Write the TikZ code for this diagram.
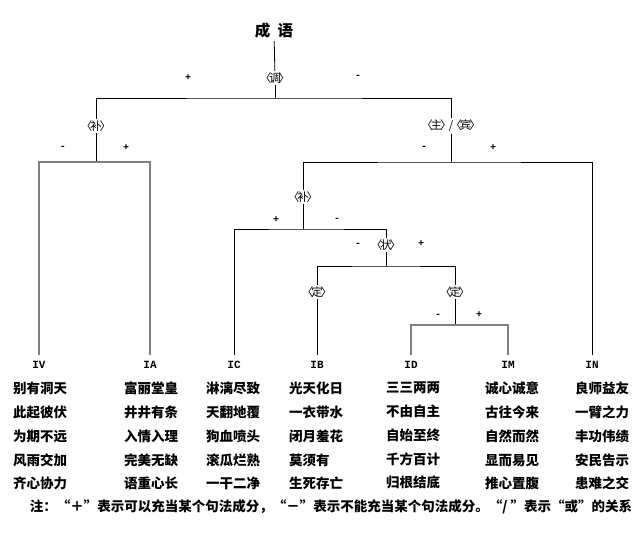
\documentclass[tikz,border=0pt]{standalone}
\usepackage{fontspec}
\usepackage{graphicx}
\newfontfamily\cjk{Noto Sans CJK SC}
\newfontfamily\lbl{Liberation Mono}
\newcommand{\Cat}[1]{〈\kern-0.18em#1\kern-0.18em〉}

\begin{document}
\begin{tikzpicture}[x=1pt,y=-1pt,
		cat/.style={font=\cjk\fontsize{11.5}{12}\selectfont, inner sep=1.5pt},
		sgn/.style={font=\lbl\bfseries\fontsize{10}{12}\selectfont, inner sep=0pt},
		leaf/.style={font=\lbl\bfseries\fontsize{11}{12}\selectfont, inner sep=6pt},
		idioms/.style={font=\cjk\bfseries\fontsize{13.5}{23.75}\selectfont, align=left, anchor=north, inner sep=0pt},
		br/.style={line width=0.8pt},
		graybr/.style={line width=1.2pt, gray}]
				\useasboundingbox (0,0) rectangle (643,543);
				% top of the tree
				\node[font=\cjk\bfseries\fontsize{15.5}{18}\selectfont, inner sep=2pt] (Chengyu) at (274,31) {成\ \ 语};
				\node[cat] (Diao) at (275,78) {\Cat{调}};
				\node[cat] (BuA) at (96,126) {\Cat{补}};
				\node[cat] (ZhuBin) at (451,126) {\Cat{主}\kern-0.25em/\kern-0.25em\Cat{宾}};
				\node[cat] (BuB) at (303,197) {\Cat{补}};
				\node[cat] (Zhuang) at (386,245) {\Cat{状}};
				\node[cat] (DingA) at (317,292) {\Cat{定}};
				\node[cat] (DingB) at (455,292) {\Cat{定}};
				% junctions
				\coordinate (jDiao) at (275,98);
				\coordinate (jBuA) at (96,162);
				\coordinate (jZhuBin) at (451,162);
				\coordinate (jBuB) at (303,229);
				\coordinate (jZhuang) at (386,266);
				\coordinate (jDingB) at (455,325);
				% classes
				\node[leaf] (IV) at (39,365) {IV};
				\node[leaf] (IA) at (150,365) {IA};
				\node[leaf] (IC) at (234,365) {IC};
				\node[leaf] (IB) at (317,365) {IB};
				\node[leaf] (ID) at (411,365) {ID};
				\node[leaf] (IM) at (508,365) {IM};
				\node[leaf] (IN) at (592,365) {IN};
				% signs
				\node[sgn] (pDiao) at (188,78) {+};
				\node[sgn] (mDiao) at (358,77) {-};
				\node[sgn] (mBuA) at (63,148) {-};
				\node[sgn] (pBuA) at (126,148) {+};
				\node[sgn] (mZhuBin) at (424,148) {-};
				\node[sgn] (pZhuBin) at (493,148) {+};
				\node[sgn] (pBuB) at (276,220) {+};
				\node[sgn] (mBuB) at (337,220) {-};
				\node[sgn] (mZhuang) at (358,245) {-};
				\node[sgn] (pZhuang) at (421,244) {+};
				\node[sgn] (mDingB) at (438,316) {-};
				\node[sgn] (pDingB) at (479,315) {+};
				% branches
				\draw[br] (Chengyu) -- (Diao);
				\draw[br] (Diao) -- (jDiao);
				\draw[br] (BuA) |- (jDiao) -| (ZhuBin);
				\draw[br] (BuA) -- (jBuA);
				\draw[graybr] (IV) |- (jBuA) -| (IA);
				\draw[br] (ZhuBin) -- (jZhuBin);
				\draw[br] (BuB) |- (jZhuBin) -| (IN);
				\draw[br] (BuB) -- (jBuB);
				\draw[br] (IC) |- (jBuB) -| (Zhuang);
				\draw[br] (Zhuang) -- (jZhuang);
				\draw[br] (DingA) |- (jZhuang) -| (DingB);
				\draw[br] (DingA) -- (IB);
				\draw[br] (DingB) -- (jDingB);
				\draw[graybr] (ID) |- (jDingB) -| (IM);
				% idioms
				\node[idioms] (wIV) at (40,382) {别有洞天\\此起彼伏\\为期不远\\风雨交加\\齐心协力};
				\node[idioms] (wIA) at (151,382) {富丽堂皇\\井井有条\\入情入理\\完美无缺\\语重心长};
				\node[idioms] (wIC) at (233,382) {淋漓尽致\\天翻地覆\\狗血喷头\\滚瓜烂熟\\一干二净};
				\node[idioms] (wIB) at (316,382) {光天化日\\一衣带水\\闭月羞花\\莫须有\\生死存亡};
				\node[idioms] (wID) at (413,382) {三三两两\\不由自主\\自始至终\\千方百计\\归根结底};
				\node[idioms] (wIM) at (512,382) {诚心诚意\\古往今来\\自然而然\\显而易见\\推心置腹};
				\node[idioms] (wIN) at (602,382) {良师益友\\一臂之力\\丰功伟绩\\安民告示\\患难之交};
				% note
				\node[inner sep=0pt] (Note) at (331,507) {\resizebox{602pt}{!}{\cjk\bfseries 注：“＋”表示可以充当某个句法成分，“－”表示不能充当某个句法成分。“/ ”表示“或”的关系}};
			\end{tikzpicture}
\end{document}
